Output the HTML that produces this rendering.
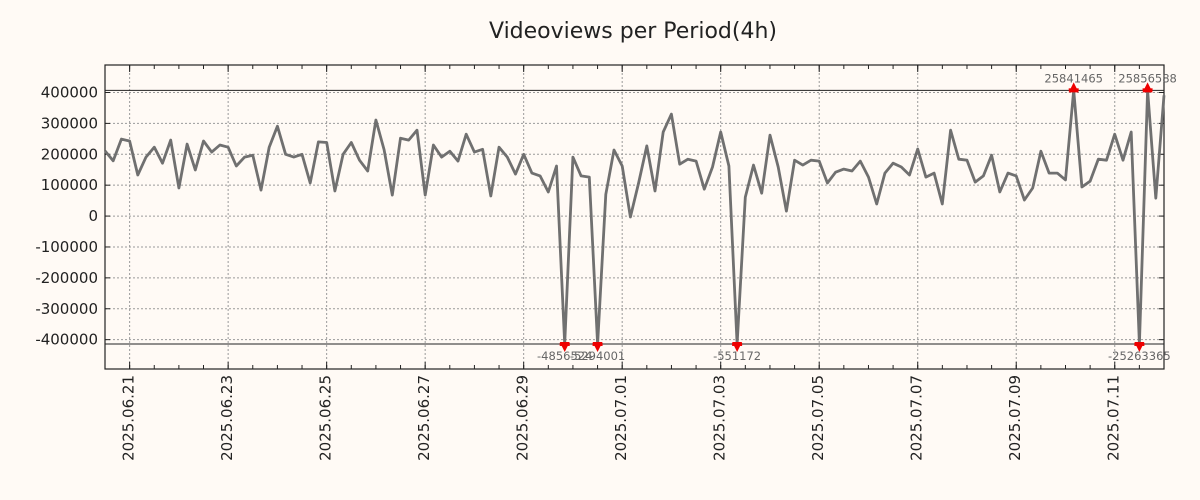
<!DOCTYPE html>
<html><head><meta charset="utf-8"><style>
html,body{margin:0;padding:0;background:#fffaf5;}
svg{display:block;}
text{font-family:"DejaVu Sans","Liberation Sans",sans-serif;}
</style></head><body>
<svg id="chart" width="1200" height="500" viewBox="0 0 1200 500">
<rect width="1200" height="500" fill="#fffaf5"/>
<text x="633" y="38" font-size="22" text-anchor="middle" fill="#222">Videoviews per Period(4h)</text>
<g id="grid"></g>
<g id="axes"></g>
<g id="series"></g>
<g id="marks"></g>
</svg>
<script>
// values in views per 4h period, starting 2025-06-20 12:00
const startTime = Date.UTC(2025,5,20,12,0);
const periodHours = 4;
const values = [211000,179000,249000,243000,133000,191000,223000,171000,246000,91000,
233000,149000,243000,207000,230000,223000,162000,191000,197000,84000,
223000,291000,200000,191000,200000,107000,240000,238000,81000,200000,
238000,181000,146000,311000,215000,68000,252000,246000,278000,68000,
230000,191000,210000,178000,265000,207000,216000,65000,223000,191000,
136000,200000,139000,130000,78000,162000,-4856524,191000,130000,126000,
-5294001,70000,214000,162000,-3000,107000,227000,81000,272000,330000,
168000,184000,178000,87000,159000,272000,162000,-551172,61000,165000,
74000,262000,159000,16000,181000,165000,181000,178000,107000,142000,
152000,146000,178000,126000,39000,139000,171000,159000,133000,217000,
126000,139000,39000,278000,184000,181000,110000,130000,197000,78000,
139000,130000,52000,91000,210000,139000,139000,117000,25841465,94000,
113000,184000,181000,265000,181000,272000,-25263365,25856588,58000,391000];
const yTicks = [400000,300000,200000,100000,0,-100000,-200000,-300000,-400000];
const xTickLabels = ["2025.06.21","2025.06.23","2025.06.25","2025.06.27","2025.06.29","2025.07.01","2025.07.03","2025.07.05","2025.07.07","2025.07.09","2025.07.11"];
const clipHigh = 407000;
const clipLow = -414000;

const NS="http://www.w3.org/2000/svg";
const L=105,R=1164,T=65,B=369;
const yMin=-495000,yMax=489000;
const DAY=86400000;
const tStart=startTime, tEnd=startTime+(values.length-1)*periodHours*3600000;
function xs(t){return L+(t-tStart)/(tEnd-tStart)*(R-L);}
function ys(v){return B-(v-yMin)/(yMax-yMin)*(B-T);}
function el(tag,attrs,parent){const e=document.createElementNS(NS,tag);for(const k in attrs)e.setAttribute(k,attrs[k]);parent.appendChild(e);return e;}
function parseDate(s){const p=s.split('.');return Date.UTC(+p[0],+p[1]-1,+p[2]);}
const grid=document.getElementById('grid'),axes=document.getElementById('axes'),series=document.getElementById('series'),marks=document.getElementById('marks');

yTicks.forEach(v=>{
  const y=ys(v);
  const g=el('line',{x1:L,x2:R,y1:y,y2:y,stroke:'#9a9a9a','stroke-width':1,'stroke-dasharray':'2,2'},grid);
  
  
  const t1=el('line',{x1:L,x2:L+5,y1:y,y2:y,stroke:'#222'},axes);
  
  
  const t2=el('line',{x1:R-5,x2:R,y1:y,y2:y,stroke:'#222'},axes);
  
  
  const lb=el('text',{x:L-7,y:y+5,'font-size':15,'text-anchor':'end',fill:'#222'},axes);
  lb.textContent=String(v);
  
  
});
for(let t=parseDate(xTickLabels[0])-DAY;t<=tEnd;t+=DAY/2){
  const x=xs(t); if(x<L||x>R) continue;
  const m1=el('line',{x1:x,x2:x,y1:T,y2:T+4,stroke:'#222'},axes);
  
  
  const m2=el('line',{x1:x,x2:x,y1:B-4,y2:B,stroke:'#222'},axes);
  
  
}
xTickLabels.forEach(s=>{
  const x=xs(parseDate(s));
  const g=el('line',{x1:x,x2:x,y1:T,y2:B,stroke:'#9a9a9a','stroke-width':1,'stroke-dasharray':'2,2'},grid);
  
  
  const t1=el('line',{x1:x,x2:x,y1:T,y2:T+7,stroke:'#222'},axes);
  
  
  const t2=el('line',{x1:x,x2:x,y1:B-7,y2:B,stroke:'#222'},axes);
  
  
  const lb=el('text',{x:0,y:0,'font-size':15,'text-anchor':'end',fill:'#222',transform:`translate(${x+4},${B+6}) rotate(-90)`},axes);
  lb.textContent=s;
  
  
});
const frame=el('rect',{x:L,y:T,width:R-L,height:B-T,fill:'none',stroke:'#222','stroke-width':1.2},axes);


const hi=el('line',{x1:L,x2:R,y1:ys(clipHigh),y2:ys(clipHigh),stroke:'#222','stroke-width':1},axes);


const lo=el('line',{x1:L,x2:R,y1:ys(clipLow),y2:ys(clipLow),stroke:'#222','stroke-width':1},axes);



const pts=values.map((v,i)=>{const c=Math.max(clipLow,Math.min(clipHigh,v));return [xs(tStart+i*periodHours*3600000),ys(c)];});
const path=el('polyline',{points:pts.map(p=>p[0].toFixed(1)+','+p[1].toFixed(1)).join(' '),fill:'none',stroke:'#707070','stroke-width':2.8,'stroke-linejoin':'round'},series);



values.forEach((v,i)=>{
  if(v<=clipHigh && v>=clipLow) return;
  const [x,y]=pts[i];
  const up=v>clipHigh;
  const tri=el('polygon',{points: up? `${x-5},${y+2} ${x+5},${y+2} ${x},${y-8}` : `${x-5},${y-2} ${x+5},${y-2} ${x},${y+8}`,fill:'#ee0000'},marks);
  
  
  const bar=el('rect',{x:x-5,y:up?y-2:y-1,width:10,height:3,fill:'#ee0000'},marks);
  
  
  const lb=el('text',{x:x,y:up?y-8:y+16,'font-size':11.5,'text-anchor':'middle',fill:'#666','font-family':'"DejaVu Sans Mono","Liberation Mono",monospace'},marks);
  lb.textContent=String(v);
  
  
});
</script>
</body></html>
